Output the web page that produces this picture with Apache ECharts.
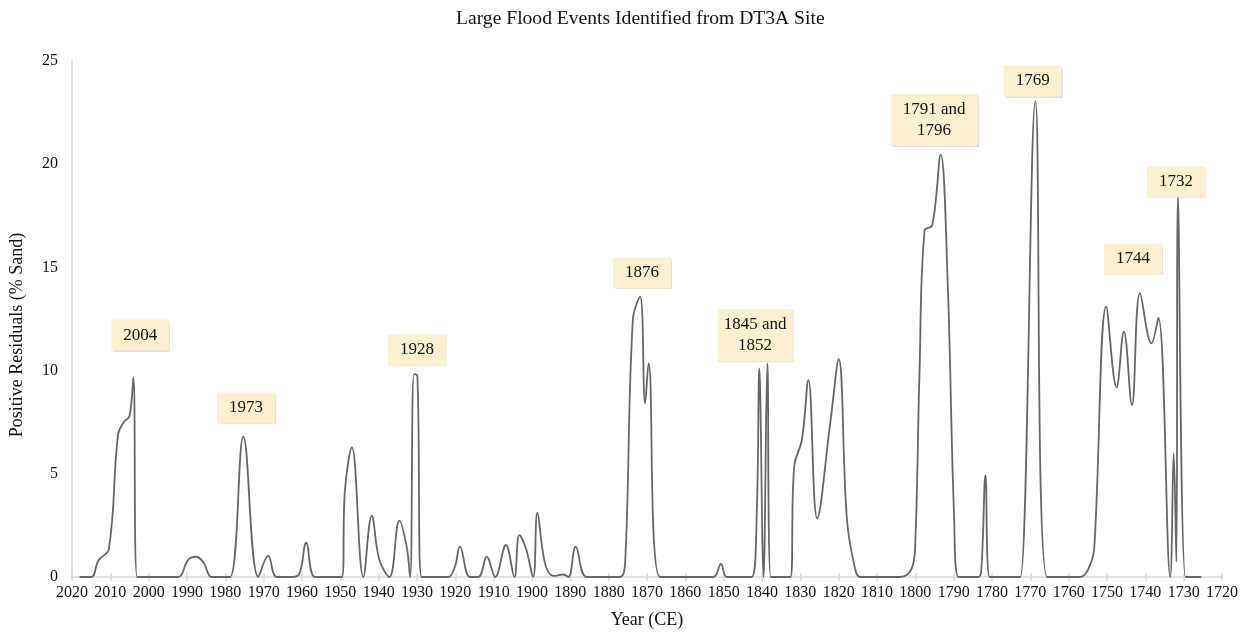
<!DOCTYPE html>
<html>
<head>
<meta charset="utf-8">
<title>Large Flood Events Identified from DT3A Site</title>
<script src="https://cdn.jsdelivr.net/npm/echarts@6/dist/echarts.min.js"></script>
<style>
  html, body { margin: 0; padding: 0; background: #ffffff; }
  #chart { width: 1251px; height: 634px; }
</style>
</head>
<body>
<div id="chart"></div>
<script>
// Sample years (CE) along the DT3A core and their positive sand residuals (%)
const years = [
  2018, 2015, 2013.1, 2010.4, 2008.0, 2006.5, 2005.0, 2004.0, 2003.0, 2000, 1995, 1992.3,
  1989.6, 1987.6, 1985.7, 1983.6, 1981.5, 1978.8, 1975.3, 1971.4,
  1968.8, 1966.6, 1963.0, 1960.8, 1958.9, 1956.6, 1952.3, 1949.6, 1948.8, 1947.0,
  1944.0, 1941.8, 1939.8, 1937.2, 1934.6, 1932.7, 1931.8, 1930.8, 1929.9,
  1928.8, 1925, 1921.8, 1920.1, 1918.8, 1916.2, 1914.0, 1911.8, 1909.6, 1906.8,
  1904.6, 1903.3, 1901.6, 1899.7, 1898.6, 1896.6, 1894.4, 1891.8, 1890.5, 1888.6,
  1885.7, 1880, 1877.0, 1875.7, 1873.7, 1871.8, 1870.5, 1869.6, 1866.6, 1860,
  1852.7, 1850.7, 1849.2, 1845, 1842.7, 1841.4, 1840.7, 1839.6, 1838.6, 1837.7,
  1834.0, 1832.6, 1831.6, 1829.6, 1827.9, 1825.6, 1822.2, 1820.0, 1817.9, 1816.2,
  1814.4, 1811.8, 1805, 1803.9, 1800.9, 1800.0, 1798.9, 1797.6, 1795.6, 1793.4,
  1791.6, 1789.9, 1788.7, 1783.6, 1782.8, 1781.7, 1780.6, 1773.6, 1772.6,
  1768.7, 1765.6, 1760, 1757.0, 1754.1, 1753.2, 1750.2, 1747.5, 1745.6,
  1743.5, 1741.4, 1738.4, 1736.6, 1733.5, 1732.6, 1731.9, 1731.5, 1729.5, 1728.0,
  1725.4
];
const residuals = [
  0, 0, 0.8, 1.35, 6.9, 7.5, 7.8, 9.66, 0, 0, 0, 0,
  0.85, 0.98, 0.7, 0, 0, 0, 6.8, 0,
  1.02, 0, 0, 0.12, 1.66, 0, 0, 0, 4.2, 6.28,
  0, 2.96, 0.82, 0, 2.73, 1.47, 0, 9.83, 9.75,
  0, 0, 0, 0.5, 1.47, 0, 0, 0.98, 0, 1.55,
  0, 2.03, 1.39, 0, 3.12, 0.66, 0.05, 0.12, 0, 1.47,
  0, 0, 0, 0.7, 12.45, 13.58, 8.41, 10.35, 0, 0,
  0, 0.63, 0, 0, 0, 2.92, 10.11, 0, 10.35, 0,
  0, 0, 5.34, 6.64, 9.54, 2.84, 7.45, 10.55, 2.92, 0.82,
  0, 0, 0, 0, 0.43, 1.7, 10.0, 16.79, 17.04, 20.46,
  14.5, 3.0, 0, 0, 0.3, 4.94, 0, 0, 0,
  23.05, 0, 0, 0, 0.74, 1.79, 13.1, 9.19, 11.89,
  8.33, 13.74, 11.32, 12.56, 0, 5.99, 0.74, 18.43, 0, 0,
  0
];

// Event labels and the point (year, residual) each label box is centred on
const eventLabels = ['2004', '1973', '1928', '1876', '1845 and\n1852', '1791 and\n1796', '1769', '1744', '1732'];
const eventYears  = [2002.2, 1974.6, 1930.0, 1871.3, 1841.8, 1795.1, 1769.4, 1743.2, 1732.0];
const eventLevels = [11.72, 8.19, 11.0, 14.73, 11.72, 22.14, 24.03, 15.41, 19.14];

const yearTicks = { min: 1720, max: 2020, step: 10 };
const residualTicks = { min: 0, max: 25, step: 5 };

const serif = '"Liberation Serif", "DejaVu Serif", serif';
const axisGray = '#d9d9d9';
const ink = '#111111';

const lineData = years.map((y, i) => [y, residuals[i]]);
// the "1845 and 1852" callout sits in a tighter box than the others
const eventData = eventLabels.map((t, i) => {
  const item = { name: t, value: [eventYears[i], eventLevels[i]] };
  if (t.startsWith('1845')) item.label = { padding: [5, 6] };
  return item;
});

const chart = echarts.init(document.getElementById('chart'), null, { renderer: 'canvas' });

chart.setOption({
  animation: false,
  backgroundColor: '#ffffff',
  title: {
    text: 'Large Flood Events Identified from DT3A Site',
    left: 451,
    top: 4,
    textStyle: { fontFamily: serif, fontSize: 19.6, fontWeight: 'normal', color: ink }
  },
  grid: { left: 72, right: 29, top: 61, bottom: 57, containLabel: false },
  xAxis: [
    {
      type: 'value',
      inverse: true,
      min: yearTicks.min,
      max: yearTicks.max,
      interval: yearTicks.step,
      name: 'Year (CE)',
      nameLocation: 'middle',
      nameGap: 34,
      nameTextStyle: { fontFamily: serif, fontSize: 18, color: ink },
      axisLine: { show: true, lineStyle: { color: axisGray, width: 1.5 } },
      axisTick: { show: true, inside: false, length: 4, lineStyle: { color: axisGray, width: 1.5 } },
      axisLabel: {
        fontFamily: serif, fontSize: 16, color: ink, margin: 8,
        showMinLabel: true, showMaxLabel: true,
        formatter: v => String(v)
      },
      splitLine: { show: false }
    },
    {
      // inner half of the crossing tick marks
      type: 'value',
      inverse: true,
      position: 'bottom',
      min: yearTicks.min,
      max: yearTicks.max,
      interval: yearTicks.step,
      axisLine: { show: false },
      axisTick: { show: true, inside: true, length: 4, lineStyle: { color: axisGray, width: 1.5 } },
      axisLabel: { show: false },
      splitLine: { show: false }
    }
  ],
  yAxis: {
    type: 'value',
    min: residualTicks.min,
    max: residualTicks.max,
    interval: residualTicks.step,
    name: 'Positive Residuals (% Sand)',
    nameLocation: 'middle',
    nameGap: 46,
    nameTextStyle: { fontFamily: serif, fontSize: 18, color: ink, padding: [0, 32, 0, 0] },
    axisLine: { show: true, lineStyle: { color: axisGray, width: 1.5 } },
    axisTick: { show: false },
    axisLabel: { fontFamily: serif, fontSize: 16, color: ink, margin: 14 },
    splitLine: { show: false }
  },
  series: [
    {
      name: 'Positive residuals',
      type: 'line',
      data: lineData,
      smooth: 0.4,
      showSymbol: false,
      clip: true,
      lineStyle: { color: '#666666', width: 1.8 },
      z: 2
    },
    {
      name: 'Flood events',
      type: 'scatter',
      data: eventData,
      symbolSize: 0,
      silent: true,
      itemStyle: { opacity: 1 },
      z: 5,
      label: {
        show: true,
        position: 'inside',
        formatter: p => p.name,
        fontFamily: serif,
        fontSize: 17,
        lineHeight: 21,
        color: ink,
        opacity: 1,
        textBorderWidth: 0,
        textBorderColor: 'transparent',
        align: 'center',
        backgroundColor: '#fdf0cf',
        padding: [5, 12],
        shadowColor: 'rgba(0,0,0,0.12)',
        shadowBlur: 1,
        shadowOffsetX: 1,
        shadowOffsetY: 1
      }
    }
  ]
});
</script>
</body>
</html>
